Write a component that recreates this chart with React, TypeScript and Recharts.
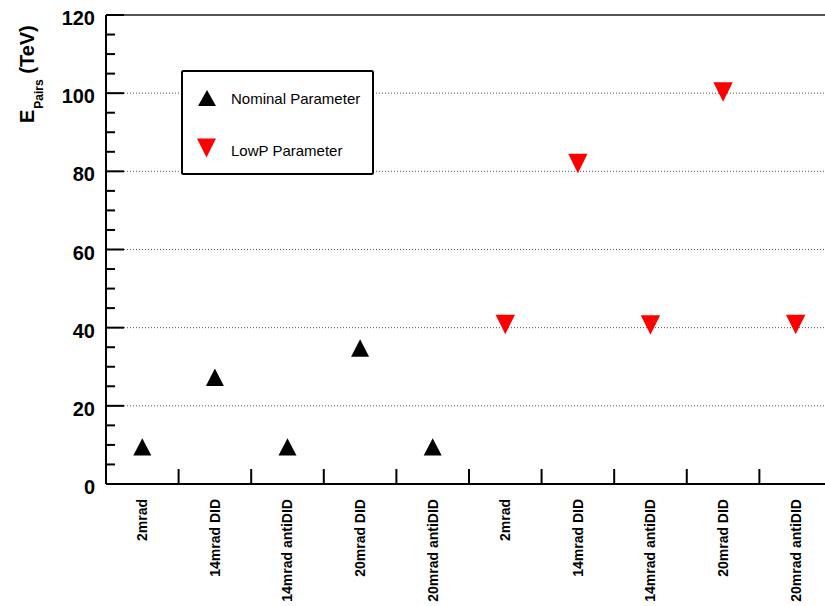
import React from 'react'
import { Legend, ReferenceLine, Scatter, ScatterChart, XAxis, YAxis } from 'recharts'

const categories = [
  '2mrad', '14mrad DID', '14mrad antiDID', '20mrad DID', '20mrad antiDID',
  '2mrad', '14mrad DID', '14mrad antiDID', '20mrad DID', '20mrad antiDID',
]
const nominalValues = [9.5, 27.3, 9.5, 34.8, 9.5]
const lowPValues = [40.8, 82.0, 40.7, 100.3, 40.8]
const majorTicks = [0, 20, 40, 60, 80, 100, 120]
const gridValues = [20, 40, 60, 80, 100]

const FONT = '"Liberation Sans", Arial, Helvetica, sans-serif'

const nominalData = nominalValues.map((v, i) => ({ x: i + 0.5, y: v }))
const lowPData = lowPValues.map((v, i) => ({ x: i + 5.5, y: v }))

const yTicks: number[] = []
majorTicks.forEach((t, i) => {
  yTicks.push(t)
  if (i < majorTicks.length - 1) yTicks.push(t + 5, t + 10, t + 15)
})

const xTicks: number[] = []
categories.forEach((_, i) => {
  if (i > 0) xTicks.push(i)
  xTicks.push(i + 0.5)
})

function upPoints(cx: number, cy: number, w: number, h: number) {
  return `${cx - w},${cy + h} ${cx + w},${cy + h} ${cx},${cy - h}`
}
function downPoints(cx: number, cy: number, w: number, h: number) {
  return `${cx - w},${cy - h} ${cx + w},${cy - h} ${cx},${cy + h}`
}

const UpTriangle = (props: any) => (
  <polygon points={upPoints(props.cx, props.cy, 9, 8.7)} fill="#000" />
)
const DownTriangle = (props: any) => (
  <polygon points={downPoints(props.cx, props.cy, 9.7, 9.7)} fill="#ff0000" />
)

const XTick = (props: any) => {
  const { x, y, payload } = props
  const v = payload.value
  if (Number.isInteger(v)) {
    return <line x1={x} y1={y} x2={x} y2={y - 15} stroke="#000" strokeWidth={2} />
  }
  const label = categories[Math.floor(v)]
  return (
    <text
      x={x + 5}
      y={y + 15}
      transform={`rotate(-90 ${x + 5} ${y + 15})`}
      textAnchor="end"
      fontFamily={FONT}
      fontWeight="bold"
      fontSize={14}
      fill="#000"
    >
      {label}
    </text>
  )
}

const YTick = (props: any) => {
  const { x, y, payload } = props
  const v = payload.value
  const major = v % 20 === 0
  return (
    <g>
      <line x1={x} y1={y} x2={x + (major ? 18 : 9)} y2={y} stroke="#000" strokeWidth={2} />
      {major && (
        <text x={x - 11} y={y + 10} textAnchor="end" fontFamily={FONT} fontWeight="bold" fontSize={20} fill="#000">
          {v}
        </text>
      )}
    </g>
  )
}

const YLabel = () => (
  <text
    x={34}
    y={123}
    transform="rotate(-90 34 123)"
    textAnchor="start"
    fontFamily={FONT}
    fontWeight="bold"
    fontSize={20}
    fill="#000"
  >
    E
    <tspan fontSize={12} dy={9} dx={1}>Pairs</tspan>
    <tspan dy={-9} dx={0}> (TeV)</tspan>
  </text>
)

const LegendBox = () => (
  <svg width={193} height={105} style={{ display: 'block' }}>
    <rect x={1} y={1} width={191} height={103} fill="#fff" stroke="#000" strokeWidth={2} rx={1.5} />
    <polygon points={upPoints(26, 28, 9, 8)} fill="#000" />
    <text x={50} y={34} fontFamily={FONT} fontSize={15} fill="#000">Nominal Parameter</text>
    <polygon points={downPoints(25.5, 78, 9.5, 9.5)} fill="#ff0000" />
    <text x={50} y={86} fontFamily={FONT} fontSize={15} fill="#000">LowP Parameter</text>
  </svg>
)

export default function App() {
  return (
    <div style={{ position: 'absolute', left: 0, top: 0, background: '#fff' }}>
      <ScatterChart width={825} height={606} margin={{ top: 15, right: 0, bottom: 0, left: 0 }}>
        <XAxis
          type="number"
          dataKey="x"
          domain={[0, 9.904]}
          allowDataOverflow
          ticks={xTicks}
          interval={0}
          height={122}
          tickSize={0}
          tickMargin={0}
          tickLine={false}
          tick={<XTick />}
          axisLine={{ stroke: '#000', strokeWidth: 2 }}
        />
        <YAxis
          type="number"
          dataKey="y"
          domain={[0, 120]}
          ticks={yTicks}
          interval={0}
          width={106}
          tickSize={0}
          tickMargin={0}
          tickLine={false}
          tick={<YTick />}
          axisLine={{ stroke: '#000', strokeWidth: 2 }}
          label={{ content: <YLabel /> }}
        />
        {gridValues.map((g) => (
          <ReferenceLine key={g} y={g} stroke="#555" strokeDasharray="1 2" strokeWidth={1} />
        ))}
        <ReferenceLine y={120} stroke="#555" strokeWidth={2} />
        <Legend
          layout="vertical"
          align="center"
          verticalAlign="middle"
          content={<LegendBox />}
          wrapperStyle={{ left: 181, top: 70, width: 193, height: 105, right: 'auto', bottom: 'auto' }}
        />
        <Scatter name="Nominal Parameter" data={nominalData} shape={<UpTriangle />} isAnimationActive={false} />
        <Scatter name="LowP Parameter" data={lowPData} shape={<DownTriangle />} isAnimationActive={false} />
      </ScatterChart>
    </div>
  )
}
